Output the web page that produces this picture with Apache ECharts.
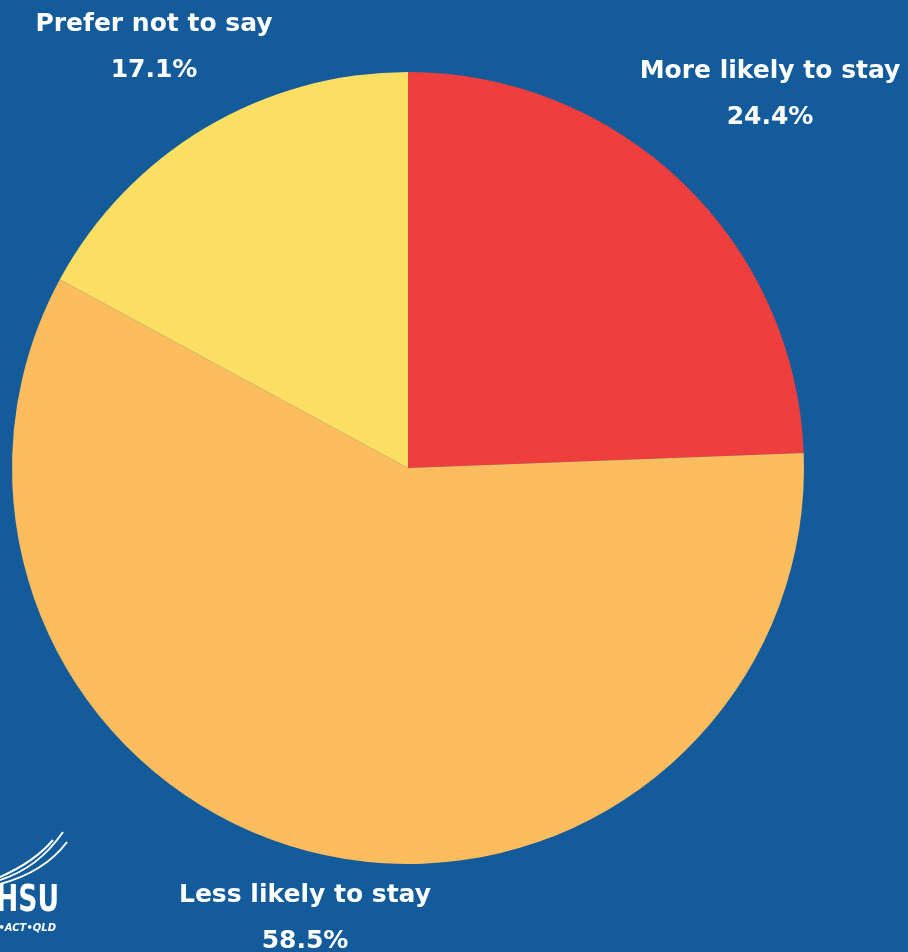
<!DOCTYPE html>
<html><head><meta charset="utf-8">
<script src="https://cdn.jsdelivr.net/npm/echarts@6/dist/echarts.min.js"></script>
<style>html,body{margin:0;padding:0;background:#135B9A;}#c{width:908px;height:952px;}</style>
</head><body><div id="c"></div>
<script>
const categories = ['More likely to stay', 'Less likely to stay', 'Prefer not to say'];
const values = [24.4, 58.5, 17.1];
const colors = ['#EF3E3E', '#FDBD5E', '#FADF63'];
const labelPos = [[770, 94], [305, 918], [154, 47]];

const chart = echarts.init(document.getElementById('c'), null, {renderer: 'canvas'});
chart.setOption({
  backgroundColor: '#135B9A',
  animation: false,
  series: [{
    type: 'pie',
    center: [408, 468],
    radius: [0, 396],
    startAngle: 90,
    clockwise: true,
    data: categories.map((n, i) => ({name: n, value: values[i], itemStyle: {color: colors[i]}})),
    label: {
      show: true,
      position: 'outside',
      formatter: p => p.name + '\n' + p.value.toFixed(1) + '%',
      color: '#ffffff',
      fontFamily: 'DejaVu Sans',
      fontWeight: 'bold',
      fontSize: 25,
      lineHeight: 46,
      align: 'center',
      overflow: 'none',
      width: 400
    },
    labelLine: {show: false},
    labelLayout: p => ({x: labelPos[p.dataIndex][0], y: labelPos[p.dataIndex][1], align: 'center', verticalAlign: 'middle'}),
    emphasis: {disabled: true}
  }],
  graphic: [
    {type: 'text', x: 59, y: 901, scaleX: 0.7, style: {text: 'HSU', fill: '#fff', font: 'bold 38px "DejaVu Sans"', textAlign: 'right', textVerticalAlign: 'middle'}},
    {type: 'text', x: 56, y: 928, style: {text: 'NSW•ACT•QLD', fill: '#fff', font: 'italic bold 10px "DejaVu Sans"', textAlign: 'right', textVerticalAlign: 'middle'}},
    {type: 'bezierCurve', shape: {x1: 0, y1: 880, cpx1: 25, cpy1: 872, cpx2: 45, cpy2: 858, x2: 63, y2: 832}, style: {stroke: '#fff', lineWidth: 2, fill: null}},
    {type: 'bezierCurve', shape: {x1: 0, y1: 877, cpx1: 25, cpy1: 866, cpx2: 42, cpy2: 853, x2: 53, y2: 840}, style: {stroke: '#fff', lineWidth: 2, fill: null}},
    {type: 'bezierCurve', shape: {x1: 0, y1: 884, cpx1: 30, cpy1: 876, cpx2: 52, cpy2: 862, x2: 67, y2: 842}, style: {stroke: '#fff', lineWidth: 2, fill: null}}
  ]
});
</script></body></html>
